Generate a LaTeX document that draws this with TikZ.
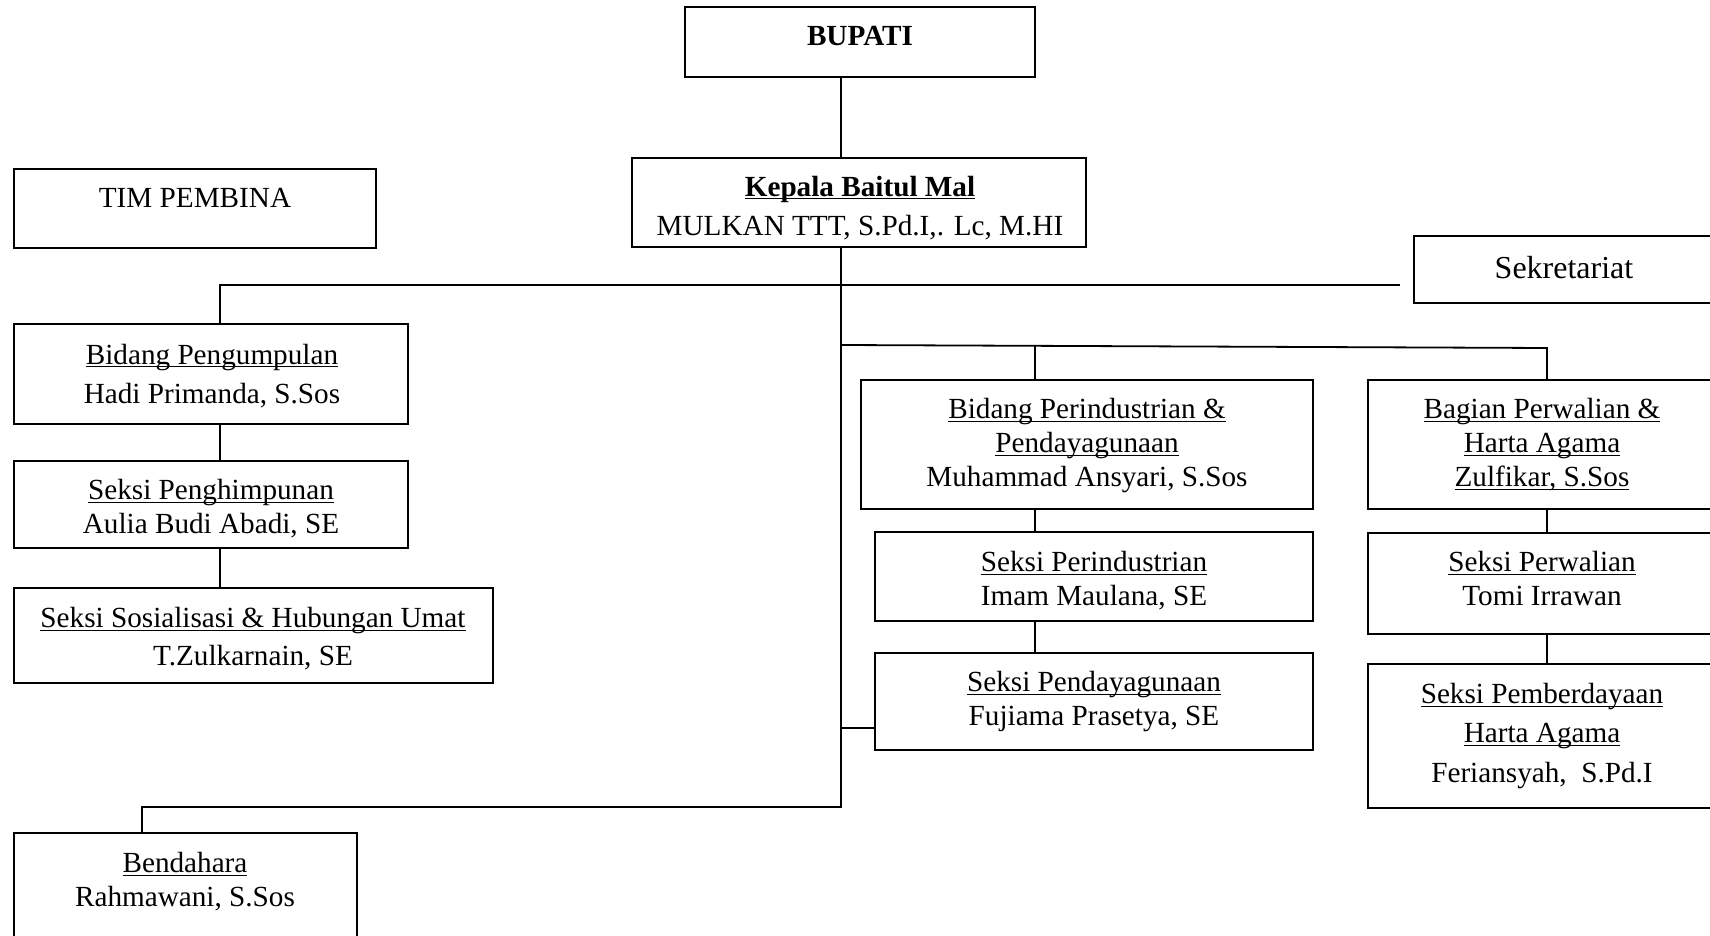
\documentclass[tikz,border=0pt]{standalone}
\usepackage{fontspec}
\setmainfont{Liberation Serif}
\usetikzlibrary{fit}
\newsavebox\ulbox
\newcommand\ulx[1]{\sbox\ulbox{#1}\rlap{\usebox\ulbox}\rule[-1.5pt]{\wd\ulbox}{0.6pt}}
\begin{document}
\begin{tikzpicture}[x=0.5pt,y=-0.5pt,
  box/.style={draw, line width=0.9pt, inner sep=0pt},
  txt/.style={align=center, inner sep=0pt, font=\fontsize{14.6}{#1}\selectfont},
  txt/.default=17,
  conn/.style={line width=0.9pt}]
\useasboundingbox (0,0) rectangle (1710,936);
\clip (0,0) rectangle (1710,936);
\fill[white] (0,0) rectangle (1710,936);

% boxes
\node[box, fit={(685,7) (1035,77)}] (bupati) {};
\node[box, fit={(632,158) (1086,247)}] (kepala) {};
\node[box, fit={(14,169) (376,248)}] (tim) {};
\node[box, fit={(1414,236) (1714,303)}] (sekr) {};
\node[box, fit={(14,324) (408,424)}] (bp) {};
\node[box, fit={(14,461) (408,548)}] (sp) {};
\node[box, fit={(14,588) (493,683)}] (ss) {};
\node[box, fit={(861,380) (1313,509)}] (bperi) {};
\node[box, fit={(875,532) (1313,621)}] (speri) {};
\node[box, fit={(875,653) (1313,750)}] (spend) {};
\node[box, fit={(1368,380) (1716,509)}] (bag) {};
\node[box, fit={(1368,533) (1716,634)}] (sperw) {};
\node[box, fit={(1368,664) (1716,808)}] (spem) {};
\node[box, fit={(14,833) (357,960)}] (bend) {};

% texts
\node[txt] (bupatit) at (860,36) {\textbf{BUPATI}};
\node[txt=19.5] (kepalat) at (860,208) {\textbf{\ulx{Kepala Baitul Mal}}\\MULKAN TTT, S.Pd.I,. Lc, M.HI};
\node[txt] (timt) at (195,198) {TIM PEMBINA};
\node[txt, font=\fontsize{16}{19}\selectfont] (sekrt) at (1564,268) {Sekretariat};
\node[txt=19.5] (bpt) at (212,376) {\ulx{Bidang Pengumpulan}\\Hadi Primanda, S.Sos};
\node[txt=17] (spt) at (211,509) {\ulx{Seksi Penghimpunan}\\Aulia Budi Abadi, SE};
\node[txt=19] (sst) at (253,639) {\ulx{Seksi Sosialisasi \& Hubungan Umat}\\T.Zulkarnain, SE};
\node[txt] (bperit) at (1087,446) {\ulx{Bidang Perindustrian \&}\\\ulx{Pendayagunaan}\\Muhammad Ansyari, S.Sos};
\node[txt] (sperit) at (1094,581) {\ulx{Seksi Perindustrian}\\Imam Maulana, SE};
\node[txt] (spendt) at (1094,702) {\ulx{Seksi Pendayagunaan}\\Fujiama Prasetya, SE};
\node[txt] (bagt) at (1542,445) {\ulx{Bagian Perwalian \&}\\\ulx{Harta Agama}\\\ulx{Zulfikar, S.Sos}};
\node[txt] (sperwt) at (1542,579) {\ulx{Seksi Perwalian}\\Tomi Irrawan};
\node[txt=19.6] (spemt) at (1542,736) {\ulx{Seksi Pemberdayaan}\\\ulx{Harta Agama}\\Feriansyah,\ \ S.Pd.I};
\node[txt] (bendt) at (185,882) {\ulx{Bendahara}\\Rahmawani, S.Sos};

% connector coordinates
\coordinate (trunkx) at (841,0);
\coordinate (tbot) at (841,807);
\coordinate (bendx) at (142,0);
\coordinate (h1l) at (220,285);
\coordinate (h1r) at (1400,285);
\coordinate (h2l) at (841,345);
\coordinate (h2m) at (1035,346.4);
\coordinate (h2r) at (1547,348);
\coordinate (pj) at (841,728);

% connectors
\draw[conn] (bupati.south -| trunkx) -- (kepala.north -| trunkx);
\draw[conn] (kepala.south -| trunkx) -- (tbot) -- (tbot -| bendx) -- (bend.north -| bendx);
\draw[conn] (h1r) -- (h1l) -- (bp.north -| h1l);
\draw[conn] (bp.south -| h1l) -- (sp.north -| h1l);
\draw[conn] (sp.south -| h1l) -- (ss.north -| h1l);
\draw[conn] (h2l) -- (h2r) -- (bag.north -| h2r);
\draw[conn] (h2m) -- (bperi.north -| h2m);
\draw[conn] (bperi.south -| h2m) -- (speri.north -| h2m);
\draw[conn] (speri.south -| h2m) -- (spend.north -| h2m);
\draw[conn] (pj) -- (spend.west |- pj);
\draw[conn] (bag.south -| h2r) -- (sperw.north -| h2r);
\draw[conn] (sperw.south -| h2r) -- (spem.north -| h2r);
\end{tikzpicture}
\end{document}
